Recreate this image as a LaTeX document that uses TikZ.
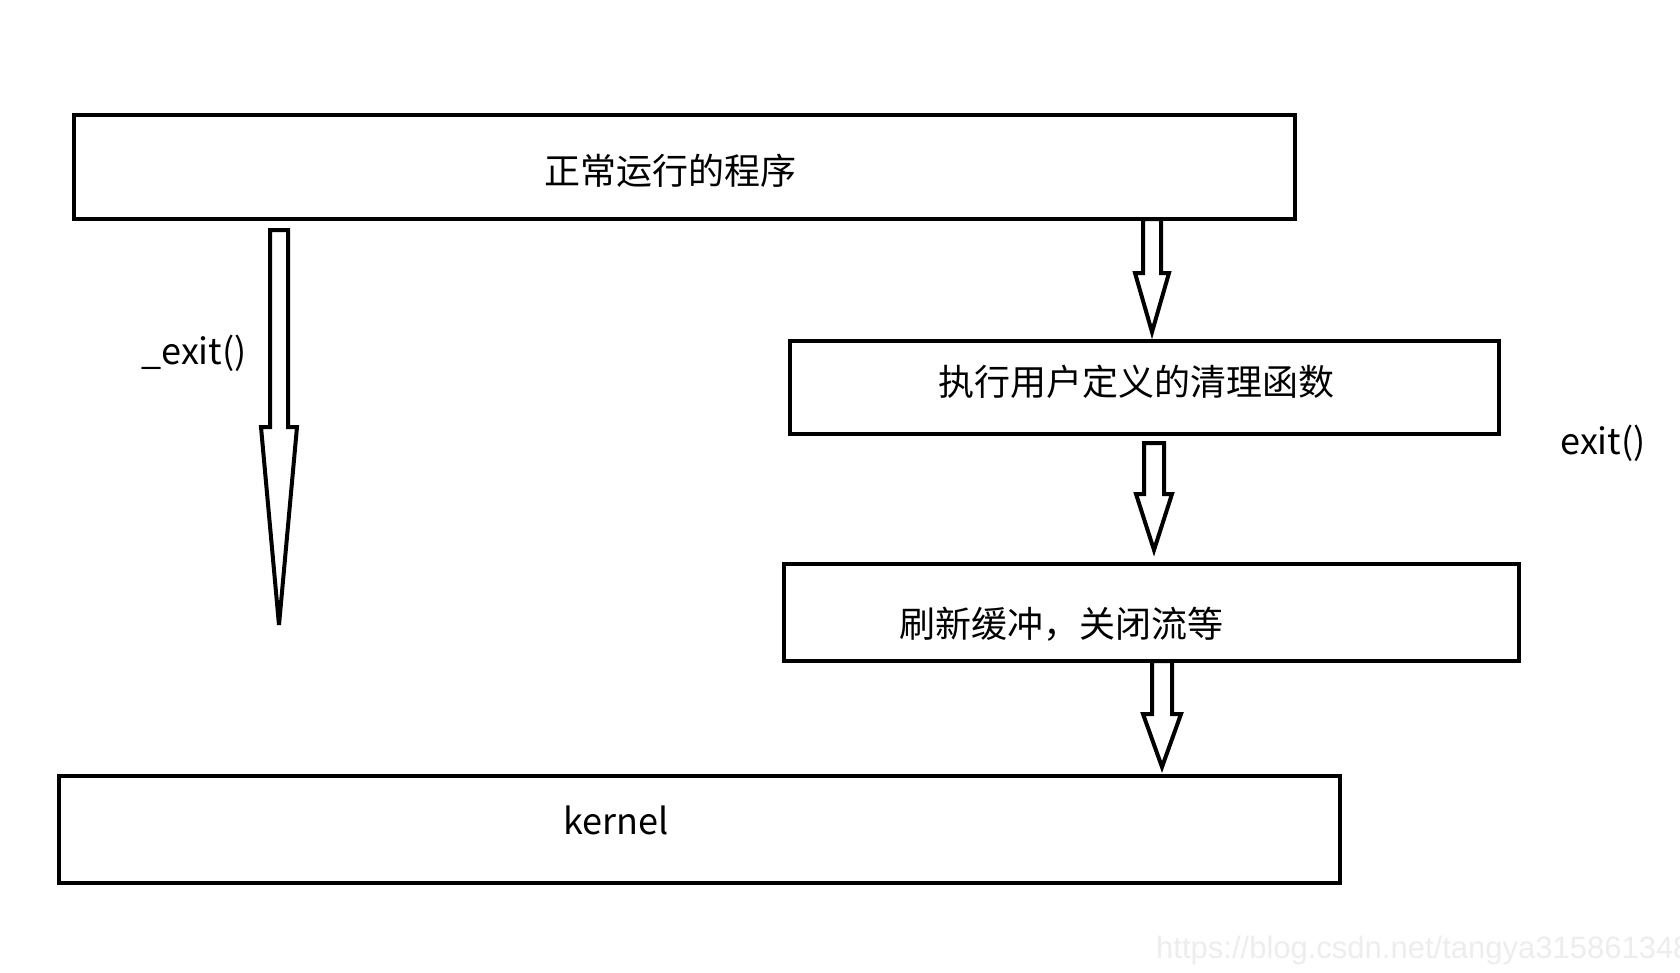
\documentclass[tikz,border=0pt]{standalone}
\usepackage{fontspec}
\setmainfont{Noto Sans CJK SC}
\newfontfamily\wmfont{Liberation Sans}
\begin{document}
\begin{tikzpicture}[x=1pt,y=-1pt,
  box/.style={draw=black,line width=4pt,inner sep=0pt,outer sep=0pt},
  lbl/.style={inner sep=0pt,font=\fontsize{36}{40}\selectfont},
  barrow/.style={draw=black,line width=4pt,fill=white,line join=miter}]
\useasboundingbox (0,0) rectangle (1680,972);
% boxes
\node[box,minimum width=1221pt,minimum height=104pt] (b1) at (684.5,167) {};
\node[box,minimum width=709pt,minimum height=93pt] (b2) at (1144.5,387.5) {};
\node[box,minimum width=735pt,minimum height=97pt] (b3) at (1151.5,612.5) {};
\node[box,minimum width=1281pt,minimum height=107pt] (b4) at (699.5,829.5) {};
% labels
\node[lbl] (t1) at (670,171) {正常运行的程序};
\node[lbl] (t2) at (1136,382) {执行用户定义的清理函数};
\node[lbl] (t3) at (1061,624) {刷新缓冲，关闭流等};
\node[lbl] (t4) at (616,820) {kernel};
\node[lbl] (t5) at (194,353) {\_exit()};
\node[lbl] (t6) at (1603,443) {exit()};
% block arrows
\newcommand\blockarrow[6]{% x, ytop, yhead, ytip, shaft half, head half
  \draw[barrow] (#1-#5,#2) -- (#1+#5,#2) -- (#1+#5,#3) -- (#1+#6,#3) -- (#1,#4)
    -- (#1-#6,#3) -- (#1-#5,#3) -- cycle;}
\blockarrow{279}{230}{427}{625}{9}{18}
\blockarrow{1152}{219}{273}{332}{9}{17}
\blockarrow{1154}{443}{494}{550}{10}{18}
\blockarrow{1162}{661}{714}{767}{10}{19}
% watermark
\node[anchor=west,inner sep=0pt,text=black!7,font=\wmfont\fontsize{31}{34}\selectfont] (wm) at (1156,950) {https://blog.csdn.net/tangya3158613488};
\end{tikzpicture}
\end{document}
